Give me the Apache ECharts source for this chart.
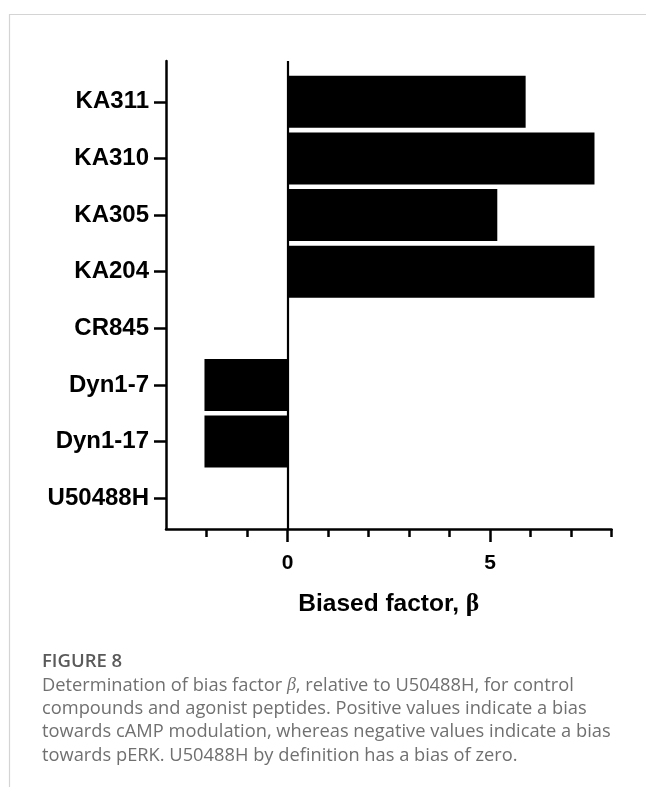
<!DOCTYPE html>
<html>
<head>
<meta charset="utf-8">
<script src="https://cdn.jsdelivr.net/npm/echarts@6/dist/echarts.min.js"></script>
<style>
  html, body { margin: 0; padding: 0; background: #fff; }
  #chart { width: 646px; height: 787px; }
</style>
</head>
<body>
<div id="chart"></div>
<script>
// Compounds, listed top to bottom
const categories = ['KA311', 'KA310', 'KA305', 'KA204', 'CR845', 'Dyn1-7', 'Dyn1-17', 'U50488H'];
// Bias factor β relative to U50488H
const biasValues = [5.88, 7.58, 5.18, 7.58, 0, -2.05, -2.05, 0];
// Value-axis ticks
const majorTicks = [0, 5];
const minorTicks = [-2, -1, 1, 2, 3, 4, 6, 7, 8];

const FONT = "'Liberation Sans', Arial, Helvetica, sans-serif";
const CAPTION_FONT = "'Open Sans', 'Noto Sans', sans-serif";
const chart = echarts.init(document.getElementById('chart'), null, { renderer: 'canvas' });

// Two grids sharing the same horizontal scale: one frames the axes,
// the other holds the bars (slightly inset vertically).
const gridLeft = 166, gridRight = 34.5;

chart.setOption({
  backgroundColor: '#ffffff',
  animation: false,
  title: [
    {
      text: 'FIGURE 8',
      left: 42, top: 652, padding: 0,
      textStyle: { fontFamily: CAPTION_FONT, fontSize: 18.5, fontWeight: 600, color: '#5a5a5a' }
    },
    {
      text: 'Determination of bias factor {i|β}, relative to U50488H, for control\n' +
            'compounds and agonist peptides. Positive values indicate a bias\n' +
            'towards cAMP modulation, whereas negative values indicate a bias\n' +
            'towards pERK. U50488H by definition has a bias of zero.',
      left: 42, top: 674, padding: 0,
      textStyle: {
        fontFamily: CAPTION_FONT, fontSize: 18.3, fontWeight: 400,
        color: '#707070', lineHeight: 23.3,
        rich: { i: { fontStyle: 'italic', fontFamily: "'Liberation Serif', serif", fontSize: 18, color: '#707070' } }
      }
    }
  ],
  graphic: [
    { type: 'line', shape: { x1: 9, y1: 14.5, x2: 646, y2: 14.5 }, style: { stroke: '#d4d4d4', lineWidth: 1.2 } },
    { type: 'line', shape: { x1: 9.5, y1: 14, x2: 9.5, y2: 787 }, style: { stroke: '#d4d4d4', lineWidth: 1.2 } }
  ],
  grid: [
    { left: gridLeft, right: gridRight, top: 61, bottom: 787 - 529, containLabel: false },
    { left: gridLeft, right: gridRight, top: 73.5, bottom: 787 - 526.5, containLabel: false }
  ],
  xAxis: [
    {
      // main value axis with long ticks and labels
      gridIndex: 0, type: 'value', min: -3, max: 8, interval: 1,
      axisLine: { show: true, onZero: false, lineStyle: { color: '#000', width: 2.5 } },
      axisTick: { show: true, length: 13, lineStyle: { color: '#000', width: 2.5 }, customValues: majorTicks },
      axisLabel: {
        show: true, customValues: majorTicks, margin: 24,
        fontFamily: FONT, fontSize: 21, fontWeight: 'bold', color: '#000'
      },
      splitLine: { show: false },
      name: 'Biased factor, {b|β}',
      nameLocation: 'middle', nameGap: 62,
      nameTextStyle: {
        fontFamily: FONT, fontSize: 24.5, fontWeight: 'bold', color: '#000',
        rich: { b: { fontFamily: "'Liberation Serif', serif", fontSize: 25.5, fontWeight: 'bold', color: '#000' } }
      }
    },
    {
      // short minor ticks
      gridIndex: 0, type: 'value', min: -3, max: 8, interval: 1, position: 'bottom',
      axisLine: { show: false, onZero: false },
      axisTick: { show: true, length: 8, lineStyle: { color: '#000', width: 2.5 }, customValues: minorTicks },
      axisLabel: { show: false },
      splitLine: { show: false }
    },
    {
      gridIndex: 1, type: 'value', min: -3, max: 8, interval: 1, show: false
    }
  ],
  yAxis: [
    {
      gridIndex: 0, type: 'value', min: 0, max: 1,
      axisLine: { show: true, onZero: false, lineStyle: { color: '#000', width: 2.5 } },
      axisTick: { show: false }, axisLabel: { show: false }, splitLine: { show: false }
    },
    {
      gridIndex: 1, type: 'category', data: categories, inverse: true, position: 'left',
      axisLine: { show: false, onZero: false },
      axisTick: { show: true, alignWithLabel: true, length: 12, lineStyle: { color: '#000', width: 2.5 } },
      axisLabel: { margin: 17, fontFamily: FONT, fontSize: 24, fontWeight: 'bold', color: '#000' },
      splitLine: { show: false }
    }
  ],
  series: [
    {
      // zero reference line across the frame
      type: 'line', xAxisIndex: 0, yAxisIndex: 0, data: [], silent: true,
      markLine: {
        silent: true, symbol: ['none', 'none'], label: { show: false },
        lineStyle: { color: '#000', width: 2.2, type: 'solid' },
        data: [{ xAxis: 0 }]
      }
    },
    {
      type: 'bar', xAxisIndex: 2, yAxisIndex: 1,
      data: biasValues, barCategoryGap: '8%',
      itemStyle: { color: '#000' }
    }
  ]
});
</script>
</body>
</html>
